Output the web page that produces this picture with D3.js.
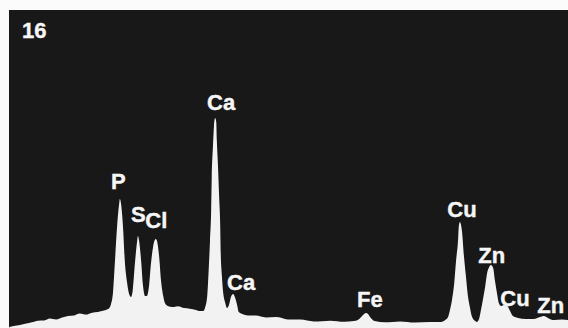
<!DOCTYPE html>
<html>
<head>
<meta charset="utf-8">
<script src="https://cdn.jsdelivr.net/npm/d3@7/dist/d3.min.js"></script>
<style>
  html, body { margin: 0; padding: 0; background: #fbfbfb; }
  svg { display: block; }
  .lbl { font-family: "Liberation Sans", Arial, sans-serif; font-weight: bold; fill: #f6f6f6; }
</style>
</head>
<body>
<div id="chart"></div>
<script>
// energy (keV) and counts
var energy = [
  0.04, 0.12, 0.23, 0.34, 0.44, 0.55, 0.66, 0.76, 0.87, 0.98,
  1.08, 1.19, 1.29, 1.40, 1.51, 1.61, 1.72, 1.79, 1.84, 1.88,
  1.91, 1.95, 1.99, 2.00, 2.02, 2.06, 2.09, 2.13, 2.16, 2.20,
  2.23, 2.27, 2.31, 2.32, 2.34, 2.38, 2.41, 2.45, 2.48, 2.52,
  2.55, 2.59, 2.62, 2.64, 2.66, 2.70, 2.73, 2.77, 2.80, 2.85,
  2.93, 3.03, 3.14, 3.24, 3.35, 3.42, 3.48, 3.51, 3.55, 3.58,
  3.60, 3.62, 3.63, 3.65, 3.67, 3.69, 3.71, 3.72, 3.74, 3.76,
  3.78, 3.79, 3.81, 3.83, 3.87, 3.90, 3.94, 3.97, 4.01, 4.04,
  4.08, 4.11, 4.17, 4.27, 4.41, 4.59, 4.77, 4.98, 5.20, 5.44,
  5.73, 5.98, 6.15, 6.22, 6.28, 6.33, 6.37, 6.40, 6.45, 6.52,
  6.70, 6.97, 7.23, 7.50, 7.68, 7.77, 7.82, 7.85, 7.89, 7.93,
  7.96, 8.00, 8.01, 8.03, 8.05, 8.07, 8.10, 8.14, 8.17, 8.21,
  8.24, 8.30, 8.33, 8.37, 8.40, 8.44, 8.48, 8.51, 8.55, 8.58,
  8.62, 8.65, 8.69, 8.72, 8.76, 8.81, 8.87, 8.92, 8.97, 9.06,
  9.20, 9.34, 9.45, 9.52, 9.59, 9.70, 9.84, 9.95
];
var counts = [
  5, 10, 14, 21, 27, 35, 36, 45, 41, 50,
  57, 60, 69, 64, 73, 76, 83, 90, 110, 171,
  300, 476, 595, 614, 595, 467, 314, 214, 167, 148,
  181, 314, 419, 438, 419, 314, 205, 152, 152, 205,
  300, 386, 419, 424, 414, 333, 229, 152, 119, 105,
  100, 104, 95, 92, 86, 81, 81, 95, 152, 300,
  419, 562, 714, 857, 962, 1000, 981, 895, 776, 633,
  490, 352, 248, 176, 119, 95, 114, 148, 162, 148,
  110, 76, 67, 60, 59, 50, 52, 41, 40, 31,
  35, 30, 33, 38, 52, 67, 71, 67, 48, 33,
  27, 31, 26, 29, 28, 38, 52, 81, 133, 214,
  314, 429, 481, 505, 490, 452, 348, 238, 157, 95,
  57, 33, 29, 43, 81, 138, 200, 257, 290, 300,
  286, 229, 162, 119, 105, 110, 105, 81, 57, 48,
  43, 43, 52, 57, 48, 38, 40, 38
];

// peak labels and the line they mark
var peakNames = ["P", "S", "Cl", "Ca", "Ca", "Fe", "Cu", "Zn", "Cu", "Zn"];
var peakEnergy = [2.01, 2.31, 2.62, 3.69, 4.01, 6.40, 8.04, 8.63, 8.90, 9.57];
var panelLabel = "16";

var W = 568, H = 328;

var svg = d3.select("#chart").append("svg")
    .attr("width", W)
    .attr("height", H);

var x = d3.scaleLinear().domain([0, 10]).range([7, 571]);
var y = d3.scaleLinear().domain([0, 1000]).range([H, 118]);

// dark screen of the analyser
svg.append("rect")
    .attr("x", 9)
    .attr("y", 10)
    .attr("width", W - 9)
    .attr("height", H - 10)
    .style("fill", "#181818");

var pts = d3.zip(energy, counts);

var area = d3.area()
    .x(function(d){ return x(d[0]); })
    .y0(y(0))
    .y1(function(d){ return y(d[1]); })
    .curve(d3.curveMonotoneX);

svg.append("path")
    .datum(pts)
    .attr("d", area)
    .style("fill", "#f2f2f2");

// label placement: [dx px, gap above peak px]
var nudge = [[-2, 10], [1, 14], [1.5, 11], [6, 8], [8, 4], [2, 6], [1.5, 5], [-2, 2], [6, -1], [4, 3]];

function peakMax(e){
    var m = 0;
    pts.forEach(function(p){
        if(Math.abs(p[0] - e) < 0.1 && p[1] > m) m = p[1];
    });
    return m;
}

svg.selectAll("text.peak")
    .data(peakNames)
  .enter().append("text")
    .attr("class", "lbl peak")
    .attr("text-anchor", "middle")
    .attr("x", function(d, i){ return x(peakEnergy[i]) + nudge[i][0]; })
    .attr("y", function(d, i){ return y(peakMax(peakEnergy[i])) - nudge[i][1]; })
    .style("font-size", "22px")
    .style("stroke", "#f6f6f6")
    .style("stroke-width", "0.4px")
    .text(function(d){ return d; });

svg.append("text")
    .attr("class", "lbl")
    .attr("x", 22)
    .attr("y", 38)
    .style("font-size", "22px")
    .style("stroke", "#f6f6f6")
    .style("stroke-width", "0.4px")
    .text(panelLabel);
</script>
</body>
</html>
